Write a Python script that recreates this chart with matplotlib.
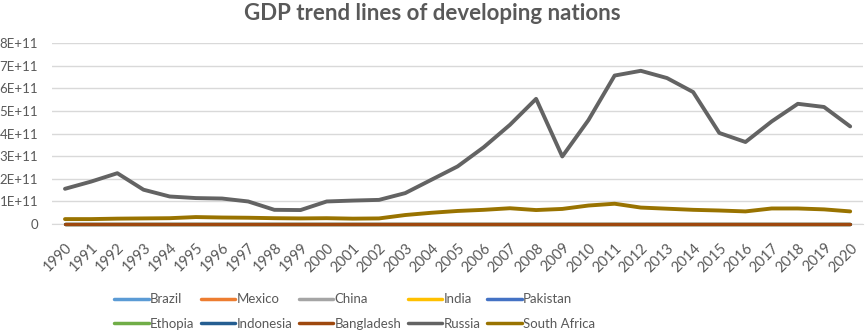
import numpy as np
import matplotlib.pyplot as plt
from matplotlib.transforms import ScaledTranslation

plt.rcParams["font.family"] = ["Lato", "DejaVu Sans"]

years = list(range(1990, 2021))
countries = ["Brazil", "Mexico", "China", "India", "Pakistan",
             "Ethopia", "Indonesia", "Bangladesh", "Russia", "South Africa"]
colors = ["#5B9BD5", "#ED7D31", "#A5A5A5", "#FFC000", "#4472C4",
          "#70AD47", "#255E91", "#9E480E", "#636363", "#997300"]

# values (USD); series not visible sit on the zero line
zero = [0.0] * len(years)
russia = [1.56, 1.88, 2.25, 1.52, 1.22, 1.15, 1.13, 1.00, 0.63, 0.62,
          1.00, 1.04, 1.07, 1.37, 1.96, 2.55, 3.40, 4.39, 5.54, 2.99,
          4.60, 6.57, 6.78, 6.46, 5.84, 4.03, 3.63, 4.54, 5.32, 5.18, 4.32]
south_africa = [0.22, 0.22, 0.24, 0.25, 0.26, 0.31, 0.29, 0.28, 0.26, 0.25,
                0.26, 0.24, 0.25, 0.40, 0.50, 0.58, 0.63, 0.70, 0.62, 0.67,
                0.82, 0.90, 0.73, 0.68, 0.63, 0.60, 0.56, 0.69, 0.69, 0.65, 0.56]

data = {c: zero for c in countries}
data["Russia"] = [v * 1e11 for v in russia]
data["South Africa"] = [v * 1e11 for v in south_africa]

fig = plt.figure(figsize=(8.65, 3.3), dpi=100)
ax = fig.add_axes([0.06, 0.321, 0.938, 0.548])

x = np.arange(len(years))
handles = {}
for c, col in zip(countries, colors):
    lw = 2.8 if c in ("Russia", "South Africa") else 2.3
    h, = ax.plot(x, data[c], color=col, lw=lw, label=c,
                 solid_capstyle="round", clip_on=False, zorder=3)
    handles[c] = h

ax.set_xlim(-0.5, len(years) - 0.5)
ax.set_ylim(0, 8e11)
ax.set_yticks(np.arange(0, 9e11, 1e11))
ax.set_yticklabels(["0"] + [f"{i}E+11" for i in range(1, 9)])
ax.set_xticks(x)
ax.set_xticklabels([str(y) for y in years], rotation=45, ha="right",
                   va="top", rotation_mode="anchor")
shift = ScaledTranslation(5 / 100, 0, fig.dpi_scale_trans)
for lab in ax.get_xticklabels():
    lab.set_transform(lab.get_transform() + shift)
ax.grid(axis="y", color="#D9D9D9", lw=1)
ax.set_axisbelow(True)
for s in ["top", "right", "left"]:
    ax.spines[s].set_visible(False)
ax.spines["bottom"].set_color("#D9D9D9")
ax.tick_params(length=0, colors="#595959")
ax.tick_params(axis="x", pad=12, labelsize=10.5)
ax.tick_params(axis="y", pad=10, labelsize=9.5)

fig.suptitle("GDP trend lines of developing nations", y=0.99,
             fontsize=16, fontweight="bold", color="#595959")

# matplotlib fills legend columns first; reorder so rows read left to right
order = [0, 5, 1, 6, 2, 7, 3, 8, 4, 9]
leg = fig.legend([handles[countries[i]] for i in order],
                 [countries[i] for i in order],
                 loc="lower center", ncol=5, frameon=False,
                 bbox_to_anchor=(0.41, -0.035), fontsize=9.5,
                 handlelength=2.6, handletextpad=0.1, columnspacing=0.5,
                 labelspacing=0.95)
for t in leg.get_texts():
    t.set_color("#595959")
for l in leg.get_lines():
    l.set_linewidth(2.5)

fig.savefig("out.png", dpi=100)
